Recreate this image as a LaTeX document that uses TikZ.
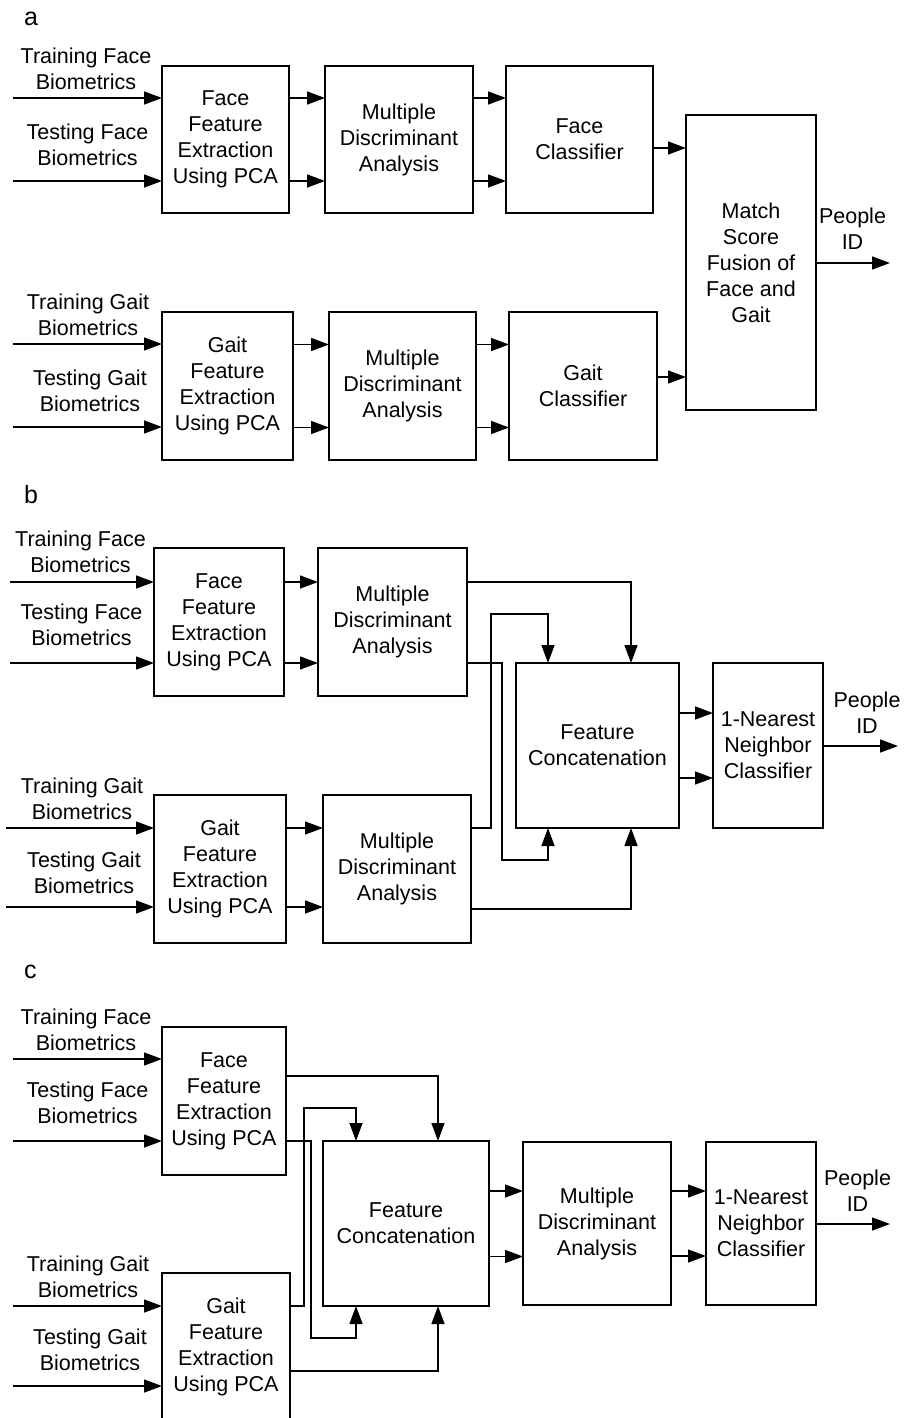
\documentclass[tikz,border=0pt]{standalone}
\usepackage{fontspec}
\setmainfont{Liberation Sans}
\usetikzlibrary{arrows.meta}

\tikzstyle{blk}   = [draw, rectangle, line width=1.4pt, align=center, inner sep=0pt, outer sep=0pt]
\tikzstyle{lbl}   = [align=center, inner sep=0pt]
\tikzstyle{conn}  = [-{Triangle[length=18pt,width=13pt]}, line width=1.4pt]
\tikzstyle{panel} = [anchor=base west, inner sep=0pt, font=\fontsize{25}{30}\selectfont]

\begin{document}
\begin{tikzpicture}[x=1pt, y=-1pt, font=\fontsize{21.5}{26}\selectfont]
\useasboundingbox (0,0) rectangle (904,1418);

% (a) match score fusion
\node[panel] (labA) at (24,26) {a};
\node[blk, minimum width=127pt, minimum height=147pt] (ffeFa) at (225.5,139.5) {Face\\Feature\\Extraction\\Using PCA};
\node[blk, minimum width=148pt, minimum height=147pt] (mdaFa) at (399,139.5) {Multiple\\Discriminant\\Analysis};
\node[blk, minimum width=147pt, minimum height=147pt] (clsFa) at (579.5,139.5) {Face\\Classifier};
\node[blk, minimum width=130pt, minimum height=295pt] (fuse) at (751,262.5) {Match\\Score\\Fusion of\\Face and\\Gait};
\node[blk, minimum width=131pt, minimum height=148pt] (ffeGa) at (227.5,386) {Gait\\Feature\\Extraction\\Using PCA};
\node[blk, minimum width=147pt, minimum height=148pt] (mdaGa) at (402.5,386) {Multiple\\Discriminant\\Analysis};
\node[blk, minimum width=148pt, minimum height=148pt] (clsGa) at (583,386) {Gait\\Classifier};
\node[lbl] (trFa) at (86,68.5) {Training Face\\Biometrics};
\node[lbl] (teFa) at (87.5,144.5) {Testing Face\\Biometrics};
\node[lbl] (trGa) at (88,314.5) {Training Gait\\Biometrics};
\node[lbl] (teGa) at (90,390.5) {Testing Gait\\Biometrics};
\node[lbl] (idA) at (852.5,229) {People\\ID};
\coordinate (inFa1) at (13,98);
\coordinate (inFa2) at (13,181);
\coordinate (inGa1) at (13,344);
\coordinate (inGa2) at (13,427);
\coordinate (endA) at (890,263);

\draw[conn] (inFa1) -- (inFa1 -| ffeFa.west);
\draw[conn] (inFa2) -- (inFa2 -| ffeFa.west);
\draw[conn] (inGa1) -- (inGa1 -| ffeGa.west);
\draw[conn] (inGa2) -- (inGa2 -| ffeGa.west);
\foreach \s in {41.5,-41.5} {
  \draw[conn] ([yshift=\s pt]ffeFa.east) -- ([yshift=\s pt]mdaFa.west);
  \draw[conn] ([yshift=\s pt]mdaFa.east) -- ([yshift=\s pt]clsFa.west);
  \draw[conn] ([yshift=\s pt]ffeGa.east) -- ([yshift=\s pt]mdaGa.west);
  \draw[conn] ([yshift=\s pt]mdaGa.east) -- ([yshift=\s pt]clsGa.west);
}
\draw[conn] ([yshift=-8.5pt]clsFa.east) -- ([yshift=-8.5pt]clsFa.east -| fuse.west);
\draw[conn] ([yshift=9pt]clsGa.east) -- ([yshift=9pt]clsGa.east -| fuse.west);
\draw[conn] (endA -| fuse.east) -- (endA);

% (b) feature concatenation after MDA
\node[panel] (labB) at (24,503) {b};
\node[blk, minimum width=130pt, minimum height=148pt] (ffeFb) at (219,622) {Face\\Feature\\Extraction\\Using PCA};
\node[blk, minimum width=149pt, minimum height=148pt] (mdaFb) at (392.5,622) {Multiple\\Discriminant\\Analysis};
\node[blk, minimum width=132pt, minimum height=148pt] (ffeGb) at (220,869) {Gait\\Feature\\Extraction\\Using PCA};
\node[blk, minimum width=148pt, minimum height=148pt] (mdaGb) at (397,869) {Multiple\\Discriminant\\Analysis};
\node[blk, minimum width=163pt, minimum height=165pt] (catb) at (597.5,745.5) {Feature\\Concatenation};
\node[blk, minimum width=110pt, minimum height=165pt] (nnb) at (768,745.5) {1-Nearest\\Neighbor\\Classifier};
\node[lbl] (trFb) at (80.5,552) {Training Face\\Biometrics};
\node[lbl] (teFb) at (81.5,625) {Testing Face\\Biometrics};
\node[lbl] (trGb) at (82,799) {Training Gait\\Biometrics};
\node[lbl] (teGb) at (84,872.5) {Testing Gait\\Biometrics};
\node[lbl] (idB) at (867,712.5) {People\\ID};
\coordinate (inFb1) at (10,582);
\coordinate (inFb2) at (10,663);
\coordinate (inGb1) at (6,828);
\coordinate (inGb2) at (6,907);
\coordinate (endB) at (898,746);
\coordinate (bendB1) at (502,860);
\coordinate (bendB2) at (491,614);

\draw[conn] (inFb1) -- (inFb1 -| ffeFb.west);
\draw[conn] (inFb2) -- (inFb2 -| ffeFb.west);
\draw[conn] (inGb1) -- (inGb1 -| ffeGb.west);
\draw[conn] (inGb2) -- (inGb2 -| ffeGb.west);
\draw[conn] (inFb1 -| ffeFb.east) -- (inFb1 -| mdaFb.west);
\draw[conn] (inFb2 -| ffeFb.east) -- (inFb2 -| mdaFb.west);
\draw[conn] (inGb1 -| ffeGb.east) -- (inGb1 -| mdaGb.west);
\draw[conn] (inGb2 -| ffeGb.east) -- (inGb2 -| mdaGb.west);
\draw[conn] ([yshift=40pt]mdaFb.east) -| ([xshift=33.5pt]catb.north);
\draw[conn] ([yshift=-41pt]mdaFb.east) -| (bendB1) -| ([xshift=-49.5pt]catb.south);
\draw[conn] ([yshift=41pt]mdaGb.east) -| (bendB2) -| ([xshift=-49.5pt]catb.north);
\draw[conn] ([yshift=-40pt]mdaGb.east) -| ([xshift=33.5pt]catb.south);
\foreach \s in {32.5,-32.5}
  \draw[conn] ([yshift=\s pt]catb.east) -- ([yshift=\s pt]nnb.west);
\draw[conn] (endB -| nnb.east) -- (endB);

% (c) feature concatenation before MDA
\node[panel] (labC) at (24,978) {c};
\node[blk, minimum width=124pt, minimum height=148pt] (ffeFc) at (224,1101) {Face\\Feature\\Extraction\\Using PCA};
\node[blk, minimum width=128pt, minimum height=147pt] (ffeGc) at (226,1346.5) {Gait\\Feature\\Extraction\\Using PCA};
\node[blk, minimum width=166pt, minimum height=165pt] (catc) at (406,1223.5) {Feature\\Concatenation};
\node[blk, minimum width=148pt, minimum height=163pt] (mdac) at (597,1223.5) {Multiple\\Discriminant\\Analysis};
\node[blk, minimum width=110pt, minimum height=163pt] (nnc) at (761,1223.5) {1-Nearest\\Neighbor\\Classifier};
\node[lbl] (trFc) at (86,1030) {Training Face\\Biometrics};
\node[lbl] (teFc) at (87.5,1103) {Testing Face\\Biometrics};
\node[lbl] (trGc) at (88,1277) {Training Gait\\Biometrics};
\node[lbl] (teGc) at (90,1350) {Testing Gait\\Biometrics};
\node[lbl] (idC) at (857.5,1191) {People\\ID};
\coordinate (inFc1) at (13,1059);
\coordinate (inFc2) at (13,1141);
\coordinate (inGc1) at (13,1306);
\coordinate (inGc2) at (13,1386);
\coordinate (endC) at (890,1224);
\coordinate (bendC1) at (311,1338);
\coordinate (bendC2) at (304,1108);

\draw[conn] (inFc1) -- (inFc1 -| ffeFc.west);
\draw[conn] (inFc2) -- (inFc2 -| ffeFc.west);
\draw[conn] (inGc1) -- (inGc1 -| ffeGc.west);
\draw[conn] (inGc2) -- (inGc2 -| ffeGc.west);
\draw[conn] ([yshift=25pt]ffeFc.east) -| ([xshift=32pt]catc.north);
\draw[conn] ([yshift=-40pt]ffeFc.east) -| (bendC1) -| ([xshift=-50pt]catc.south);
\draw[conn] ([yshift=40.5pt]ffeGc.east) -| (bendC2) -| ([xshift=-50pt]catc.north);
\draw[conn] ([yshift=-24.5pt]ffeGc.east) -| ([xshift=32pt]catc.south);
\foreach \s in {32.5,-33}
  \draw[conn] ([yshift=\s pt]catc.east) -- ([yshift=\s pt]mdac.west);
\foreach \s in {32.5,-32.5}
  \draw[conn] ([yshift=\s pt]mdac.east) -- ([yshift=\s pt]nnc.west);
\draw[conn] (endC -| nnc.east) -- (endC);
\end{tikzpicture}
\end{document}
